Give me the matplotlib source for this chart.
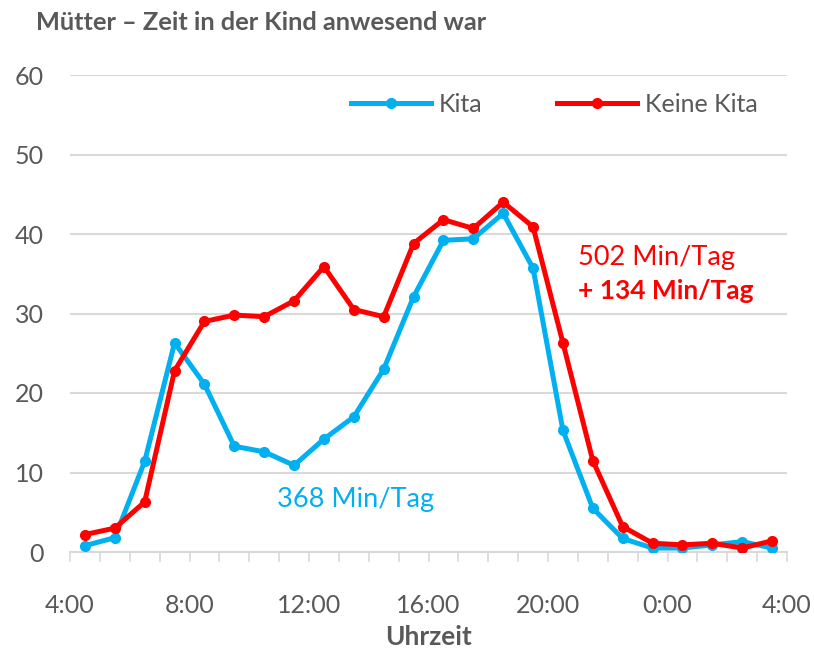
import matplotlib
matplotlib.use("Agg")
import matplotlib.pyplot as plt
from matplotlib.ticker import MultipleLocator

plt.rcParams['font.family'] = ['Lato', 'DejaVu Sans']

# Data: half-hour centers from 4:30 to 3:30 (next day)
hours = [h + 0.5 for h in range(4, 28)]
kita = [0.8, 1.8, 11.4, 26.3, 21.1, 13.3, 12.6, 10.9, 14.2, 17.0, 23.0, 32.1,
        39.2, 39.4, 42.6, 35.7, 15.3, 5.5, 1.7, 0.5, 0.5, 0.9, 1.3, 0.5]
keine_kita = [2.2, 3.0, 6.3, 22.8, 29.0, 29.8, 29.6, 31.6, 35.9, 30.5, 29.6, 38.8,
              41.8, 40.7, 44.0, 40.9, 26.3, 11.5, 3.2, 1.1, 0.9, 1.1, 0.5, 1.4]
xtick_pos = [4, 8, 12, 16, 20, 24, 28]
xtick_labels = ["4:00", "8:00", "12:00", "16:00", "20:00", "0:00", "4:00"]
yticks = [0, 10, 20, 30, 40, 50, 60]

BLUE = "#00B0F0"
RED = "#FF0000"
GRAY = "#595959"
GRID = "#D9D9D9"

fig = plt.figure(figsize=(8.14, 6.54), dpi=100)
ax = fig.add_axes([70/814, 102/654, 717/814, 477/654])

ax.plot(hours, kita, color=BLUE, lw=3.6, marker='o', ms=7, label="Kita",
        solid_joinstyle='round', zorder=3)
ax.plot(hours, keine_kita, color=RED, lw=3.6, marker='o', ms=7, label="Keine Kita",
        solid_joinstyle='round', zorder=4)

ax.set_xlim(4, 28)
ax.set_ylim(0, 60)
ax.set_yticks(yticks)
ax.set_xticks(xtick_pos)
ax.set_xticklabels(xtick_labels)
ax.xaxis.set_minor_locator(MultipleLocator(1))

for s in ['top', 'right', 'left']:
    ax.spines[s].set_visible(False)
ax.spines['bottom'].set_color(GRID)
ax.spines['bottom'].set_linewidth(1.5)

ax.grid(axis='y', color=GRID, lw=1.5, zorder=0)
ax.set_axisbelow(True)

ax.tick_params(axis='y', length=0, pad=19, labelsize=18, labelcolor=GRAY)
ax.tick_params(axis='x', which='both', length=7, width=1.2, color=GRID,
               direction='out', pad=23, labelsize=18, labelcolor=GRAY)

ax.set_xlabel("Uhrzeit", fontsize=19, fontweight='bold', color=GRAY, labelpad=6)

fig.text(36/814, 1 - 23/654, "Mütter – Zeit in der Kind anwesend war",
         fontsize=18.3, fontweight='bold', color=GRAY, va='center', ha='left')

fig.text(277/814, 1 - 500/654, "368 Min/Tag", color=BLUE, fontsize=19.5,
         va='center', ha='left')
fig.text(578/814, 1 - 257/654, "502 Min/Tag", color=RED, fontsize=19.5,
         va='center', ha='left')
fig.text(578/814, 1 - 291/654, "+ 134 Min/Tag", color=RED, fontsize=19,
         fontweight='bold', va='center', ha='left')

leg = ax.legend(loc='center left', bbox_to_anchor=(351/814, 1 - 104/654),
                bbox_transform=fig.transFigure, ncol=2, frameon=False,
                fontsize=18, handlelength=3.2, handletextpad=0.3,
                columnspacing=3.0, numpoints=1, borderaxespad=0, borderpad=0)
for t in leg.get_texts():
    t.set_color(GRAY)

fig.savefig("out.png", dpi=100)
